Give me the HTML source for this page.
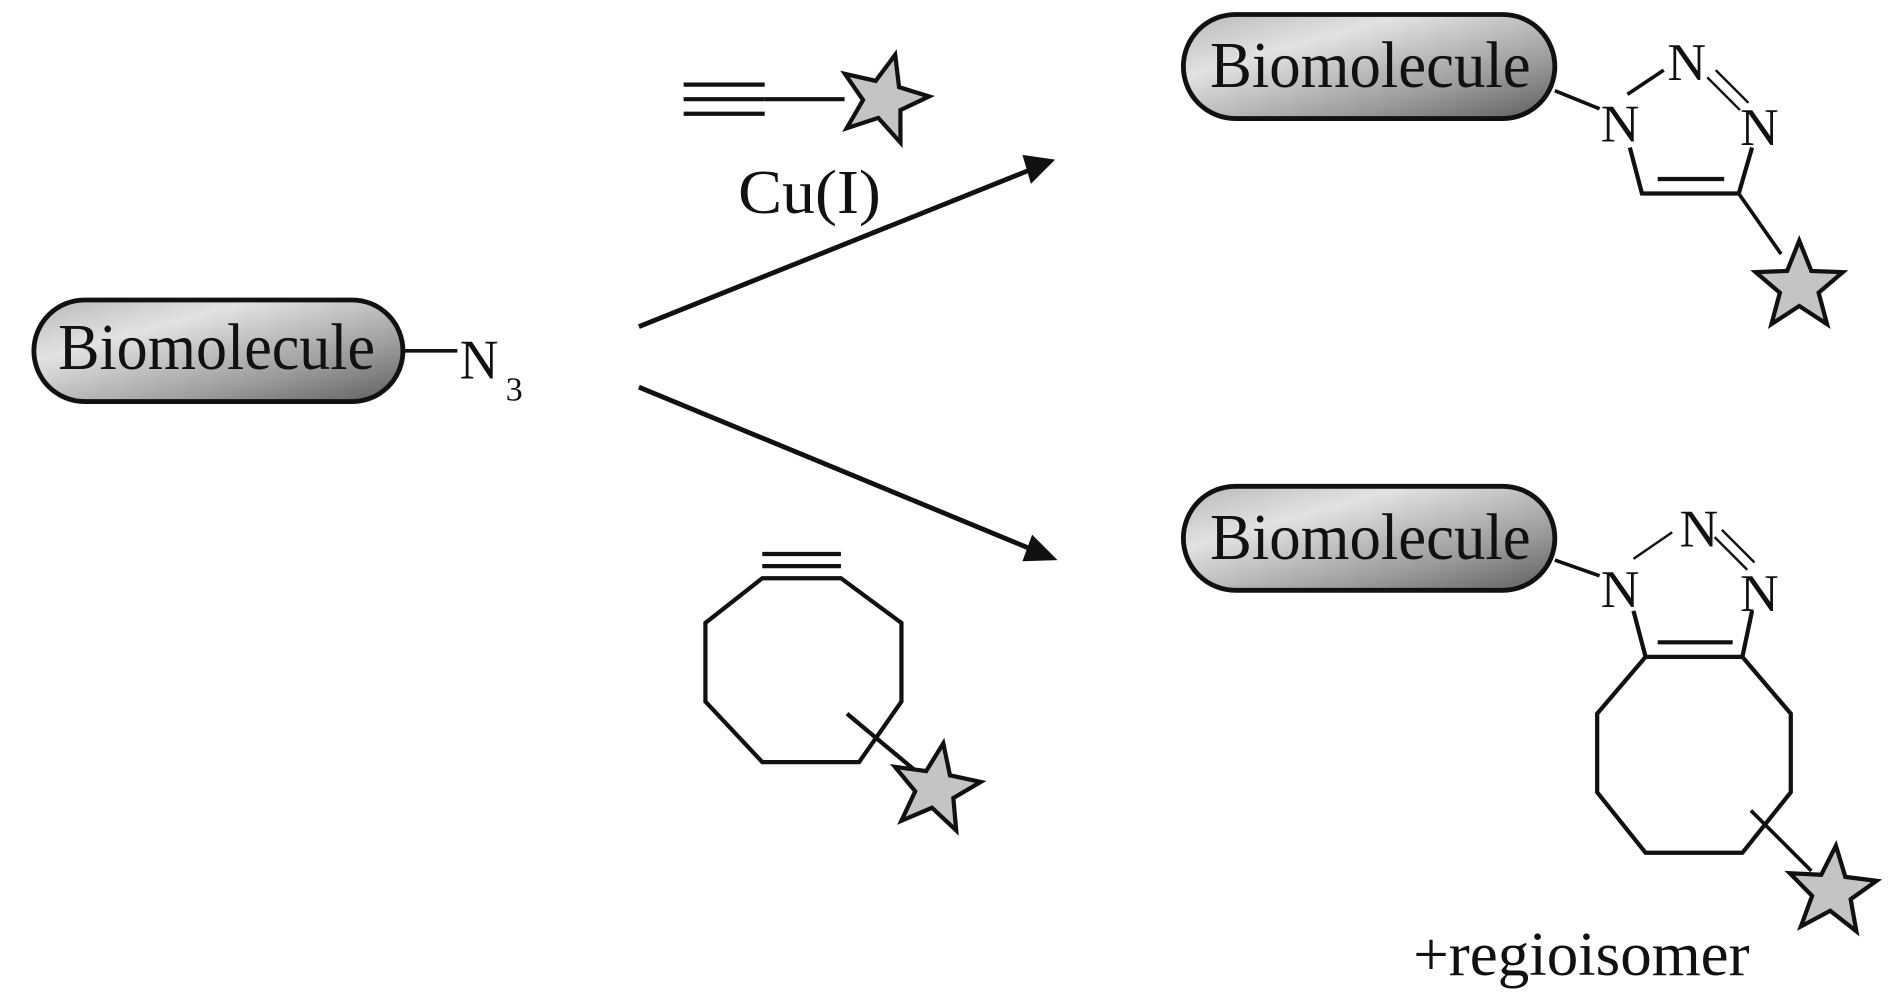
<!DOCTYPE html>
<html><head><meta charset="utf-8"><style>html,body{margin:0;padding:0;background:#fff}svg{display:block}</style></head><body>
<svg width="1890" height="1004" viewBox="0 0 1562 830" preserveAspectRatio="none" xmlns="http://www.w3.org/2000/svg">
<defs>
<linearGradient id="g" x1="0" y1="0" x2="1" y2="1">
<stop offset="0" stop-color="#b8b8b8"/><stop offset="0.3" stop-color="#e2e2e2"/><stop offset="0.7" stop-color="#9c9c9c"/><stop offset="1" stop-color="#5e5e5e"/>
</linearGradient>
<g id="star"><polygon points="0,-38 10,-13 36,-12 16,5 23,31 0,16 -23,31 -16,5 -36,-12 -10,-13" fill="#c4c4c4" stroke="#111" stroke-width="3.5" stroke-linejoin="miter"/></g>
</defs>
<g font-family="'Liberation Serif',serif" fill="#111">
<!-- left -->
<rect x="28" y="248" width="305" height="84" rx="42" fill="url(#g)" stroke="#111" stroke-width="4"/>
<text x="48" y="305" font-size="54" textLength="262" lengthAdjust="spacingAndGlyphs">Biomolecule</text>
<line x1="333" y1="290" x2="378" y2="290" stroke="#111" stroke-width="3"/>
<text x="380" y="313" font-size="46" textLength="32" lengthAdjust="spacingAndGlyphs">N</text><text x="418" y="331" font-size="28">3</text>

<!-- top reagent -->
<g stroke="#111" stroke-width="3.5">
<line x1="565" y1="70" x2="632" y2="70"/><line x1="565" y1="82" x2="632" y2="82"/><line x1="565" y1="94" x2="632" y2="94"/>
<line x1="632" y1="82" x2="698" y2="82"/>
</g>
<use href="#star" transform="translate(730,82) rotate(15)"/>
<text x="610" y="176" font-size="52" textLength="118" lengthAdjust="spacingAndGlyphs">Cu(I)</text>

<!-- arrows -->
<g stroke="#111" stroke-width="4">
<line x1="528" y1="270" x2="850" y2="141"/>
<line x1="528" y1="320" x2="850" y2="453"/>
</g>
<polygon points="872,132 845,128 852,152" fill="#111"/>
<polygon points="874,463 853,442 845,464" fill="#111"/>

<!-- cyclooctyne -->
<g stroke="#111" stroke-width="3.5" fill="none">
<line x1="630" y1="458" x2="695" y2="458"/><line x1="630" y1="468" x2="695" y2="468"/>
<polygon points="630,478 695,478 745,515 745,580 710,630 630,630 583,580 583,515"/>
<line x1="700" y1="590" x2="760" y2="640"/>
</g>
<use href="#star" transform="translate(773,652) rotate(10)"/>

<!-- top product -->
<rect x="978" y="12" width="307" height="86" rx="43" fill="url(#g)" stroke="#111" stroke-width="4"/>
<text x="1000" y="72" font-size="54" textLength="265" lengthAdjust="spacingAndGlyphs">Biomolecule</text>
<g stroke="#111" stroke-width="3" fill="none">
<line x1="1285" y1="75" x2="1322" y2="90"/>
<line x1="1345" y1="78" x2="1375" y2="58"/>
<line x1="1418" y1="58" x2="1445" y2="85" stroke-width="2"/><line x1="1411" y1="64" x2="1438" y2="91" stroke-width="2"/>
<polyline points="1347,122 1357,160 1437,160 1448,122" stroke-width="3.5"/>
<line x1="1370" y1="148" x2="1425" y2="148" stroke-width="3.5"/>
<line x1="1437" y1="160" x2="1472" y2="210"/>
</g>
<text x="1323" y="117" font-size="44" textLength="32" lengthAdjust="spacingAndGlyphs">N</text><text x="1378" y="66" font-size="44" textLength="32" lengthAdjust="spacingAndGlyphs">N</text><text x="1438" y="120" font-size="44" textLength="32" lengthAdjust="spacingAndGlyphs">N</text>
<use href="#star" transform="translate(1487,237) rotate(0)"/>

<!-- bottom product -->
<rect x="978" y="402" width="307" height="86" rx="43" fill="url(#g)" stroke="#111" stroke-width="4"/>
<text x="1000" y="462" font-size="54" textLength="265" lengthAdjust="spacingAndGlyphs">Biomolecule</text>
<g stroke="#111" stroke-width="3.5" fill="none">
<line x1="1285" y1="463" x2="1322" y2="476" stroke-width="3"/>
<line x1="1350" y1="462" x2="1382" y2="440" stroke-width="2"/>
<line x1="1423" y1="438" x2="1450" y2="465" stroke-width="2"/><line x1="1417" y1="444" x2="1444" y2="471" stroke-width="2"/>
<line x1="1350" y1="505" x2="1360" y2="543"/><line x1="1448" y1="505" x2="1440" y2="543"/>
<line x1="1370" y1="531" x2="1432" y2="531"/>
<polygon points="1360,543 1440,543 1480,590 1480,655 1440,705 1360,705 1320,655 1320,590"/>
<line x1="1447" y1="670" x2="1497" y2="720" stroke-width="3"/>
</g>
<text x="1323" y="502" font-size="44" textLength="32" lengthAdjust="spacingAndGlyphs">N</text><text x="1388" y="452" font-size="44" textLength="32" lengthAdjust="spacingAndGlyphs">N</text><text x="1438" y="505" font-size="44" textLength="32" lengthAdjust="spacingAndGlyphs">N</text>
<use href="#star" transform="translate(1514,737) rotate(5)"/>
<text x="1168" y="806" font-size="52" textLength="278" lengthAdjust="spacingAndGlyphs">+regioisomer</text>
</g>
</svg>
</body></html>
